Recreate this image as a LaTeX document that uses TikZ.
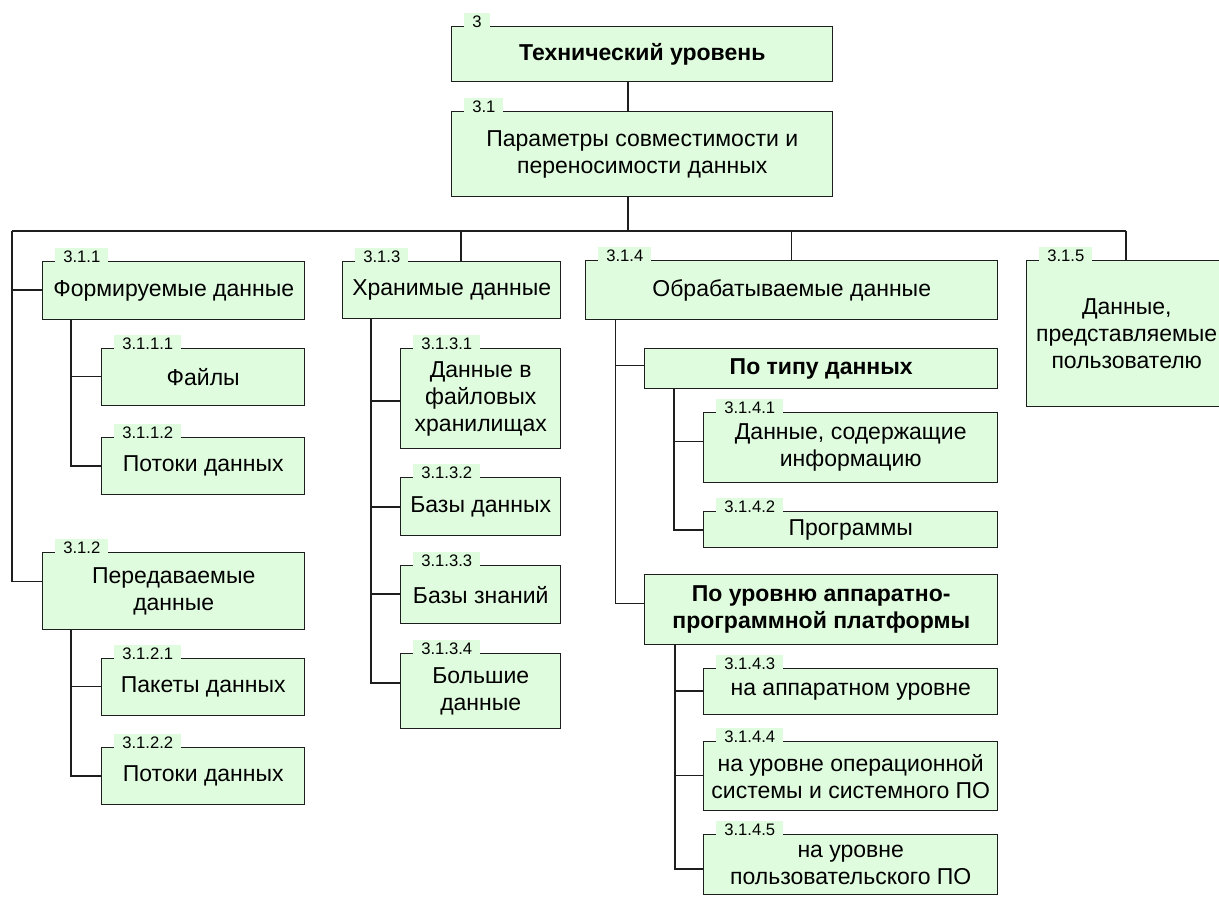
\documentclass[tikz,border=0pt]{standalone}
\usepackage{fontspec}
\setmainfont{Liberation Sans}
\usetikzlibrary{calc}
\definecolor{boxfill}{RGB}{224,252,222}
\definecolor{boxline}{RGB}{30,30,30}
\tikzset{
  boxst/.style={draw=boxline,fill=boxfill,line width=1.1pt,inner sep=0pt,align=center,
    font=\fontsize{17.25}{20.25}\selectfont},
  labst/.style={fill=boxfill,inner xsep=6pt,inner ysep=0pt,minimum height=14pt,
    font=\fontsize{12.5}{14}\selectfont},
  conn/.style={draw=boxline,line width=0.9pt}
}
\newcommand\mkbox[8]{% name, l, t, r, b, in-offset, extra style, text
  \pgfmathsetmacro\bw{(#4-#2)*0.75}%
  \pgfmathsetmacro\bh{(#5-#3)*0.75}%
  \node[boxst,#7,minimum width=\bw pt,minimum height=\bh pt,anchor=north west] (#1) at (#2,#3) {#8};
  \coordinate (#1in) at ($(#1.north west)+(0,#6)$);
}
\newcommand\boxlabel[2]{%
  \node[labst,anchor=west] (#1lab) at ($(#1.north west)+(13,-4)$) {#2};
}
\begin{document}
\begin{tikzpicture}[x=0.75pt,y=-0.75pt]
\useasboundingbox (0,0) rectangle (1219,896);
\clip (0,0) rectangle (1219,896);
\fill[white] (0,0) rectangle (1219,896);

% ---- connector coordinates
\coordinate (trunk) at (628,0);
\coordinate (busL) at (12,231);
\coordinate (busR) at (1126,231);

% ---- boxes
\mkbox{n3}{451}{26}{832}{81}{27}{font=\fontsize{17.25}{20.25}\selectfont\bfseries}{Технический уровень}
\boxlabel{n3}{3}
\mkbox{n31}{451}{111}{832}{196}{42}{}{Параметры совместимости и\\переносимости данных}
\boxlabel{n31}{3.1}

\mkbox{n311}{42}{261}{304}{319}{29}{}{Формируемые данные}
\boxlabel{n311}{3.1.1}
\mkbox{n3111}{101}{348}{304}{405}{28.5}{}{Файлы}
\boxlabel{n3111}{3.1.1.1}
\mkbox{n3112}{101}{437}{304}{494}{29}{}{Потоки данных}
\boxlabel{n3112}{3.1.1.2}
\mkbox{n312}{42}{552}{304}{629}{29.7}{}{Передаваемые\\данные}
\boxlabel{n312}{3.1.2}
\mkbox{n3121}{101}{658}{304}{715}{28.5}{}{Пакеты данных}
\boxlabel{n3121}{3.1.2.1}
\mkbox{n3122}{101}{747}{304}{804}{29}{}{Потоки данных}
\boxlabel{n3122}{3.1.2.2}

\mkbox{n313}{342}{261}{560}{318}{29}{}{Хранимые данные}
\boxlabel{n313}{3.1.3}
\mkbox{n3131}{400}{348}{560}{448}{53}{}{Данные в\\файловых\\хранилищах}
\boxlabel{n3131}{3.1.3.1}
\mkbox{n3132}{400}{477}{560}{535}{30}{}{Базы данных}
\boxlabel{n3132}{3.1.3.2}
\mkbox{n3133}{400}{565}{560}{623}{29}{}{Базы знаний}
\boxlabel{n3133}{3.1.3.3}
\mkbox{n3134}{400}{653}{560}{728}{30}{}{Большие\\данные}
\boxlabel{n3134}{3.1.3.4}

\mkbox{n314}{585}{260}{997}{319}{29}{}{Обрабатываемые данные}
\boxlabel{n314}{3.1.4}
\mkbox{ntype}{644}{348}{997}{388}{17.5}{font=\fontsize{17.25}{20.25}\selectfont\bfseries}{По типу данных}
\mkbox{n3141}{703}{412}{997}{482}{29.5}{}{Данные, содержащие\\информацию}
\boxlabel{n3141}{3.1.4.1}
\mkbox{n3142}{703}{511}{997}{547}{19}{}{Программы}
\boxlabel{n3142}{3.1.4.2}
\mkbox{nlevel}{644}{574}{997}{644}{29.3}{font=\fontsize{17.25}{20.25}\selectfont\bfseries}{По уровню аппаратно-\\программной платформы}
\mkbox{n3143}{703}{668}{997}{714}{23}{}{на аппаратном уровне}
\boxlabel{n3143}{3.1.4.3}
\mkbox{n3144}{703}{741}{997}{810}{34.7}{}{на уровне операционной\\системы и системного ПО}
\boxlabel{n3144}{3.1.4.4}
\mkbox{n3145}{703}{834}{997}{894}{35}{}{на уровне\\пользовательского ПО}
\boxlabel{n3145}{3.1.4.5}

\mkbox{n315}{1026}{260}{1226}{406}{29}{}{Данные,\\представляемые\\пользователю}
\boxlabel{n315}{3.1.5}

% ---- sub-vertical coordinates
\coordinate (v311) at ($(n311.south west)+(29,0)$);
\coordinate (v312) at ($(n312.south west)+(29,0)$);
\coordinate (v313) at ($(n313.south west)+(29,0)$);
\coordinate (v314) at ($(n314.south west)+(30.5,0)$);
\coordinate (vtype) at ($(ntype.south west)+(30,0)$);
\coordinate (vlevel) at ($(nlevel.south west)+(31,0)$);
\coordinate (b313) at (461,231);

% ---- connectors
\draw[conn] (n3.south -| trunk) -- (n31.north -| trunk);
\draw[conn] (n31.south -| trunk) -- (busL -| trunk);
\draw[conn] (busL) -- (busR);
\draw[conn] (busR) -- (n315.north -| busR);
\draw[conn] (b313) -- (n313.north -| b313);
\draw[conn] (n314.north |- busL) -- (n314.north);

\draw[conn] (busL) |- (n312in);
\draw[conn] (busL |- n311in) -- (n311in);

\draw[conn] (v311) |- (n3112in);
\draw[conn] (v311 |- n3111in) -- (n3111in);
\draw[conn] (v312) |- (n3122in);
\draw[conn] (v312 |- n3121in) -- (n3121in);

\draw[conn] (v313) |- (n3134in);
\draw[conn] (v313 |- n3131in) -- (n3131in);
\draw[conn] (v313 |- n3132in) -- (n3132in);
\draw[conn] (v313 |- n3133in) -- (n3133in);

\draw[conn] (v314) |- (nlevelin);
\draw[conn] (v314 |- ntypein) -- (ntypein);
\draw[conn] (vtype) |- (n3142in);
\draw[conn] (vtype |- n3141in) -- (n3141in);
\draw[conn] (vlevel) |- (n3145in);
\draw[conn] (vlevel |- n3143in) -- (n3143in);
\draw[conn] (vlevel |- n3144in) -- (n3144in);
\end{tikzpicture}
\end{document}
